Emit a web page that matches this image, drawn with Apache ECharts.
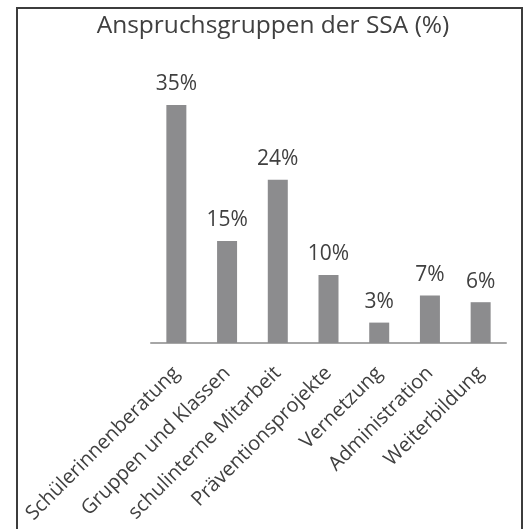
<!DOCTYPE html>
<html>
<head>
<meta charset="utf-8">
<script src="https://cdn.jsdelivr.net/npm/echarts@6/dist/echarts.min.js"></script>
<style>
html,body{margin:0;padding:0;background:#fff;}
#c{width:527px;height:529px;}
</style>
</head>
<body>
<div id="c"></div>
<script>
const titleText = 'Anspruchsgruppen der SSA (%)';
const categories = ['Schülerinnenberatung','Gruppen und Klassen','schulinterne Mitarbeit','Präventionsprojekte','Vernetzung','Administration','Weiterbildung'];
const values = [35, 15, 24, 10, 3, 7, 6];

const FONT = 'Open Sans';
const chart = echarts.init(document.getElementById('c'), null, {renderer:'canvas'});
chart.setOption({
  animation:false,
  backgroundColor:'#fff',
  graphic:[{
    type:'rect',
    shape:{x:17,y:8,width:505,height:525},
    style:{fill:'none',stroke:'#3c3c3c',lineWidth:2}
  }],
  title:{
    text:titleText,
    left:268, top:9, textAlign:'center',
    textStyle:{fontFamily:FONT,fontSize:24.5,fontWeight:'normal',color:'#404040'}
  },
  grid:{left:151,right:21,top:105,bottom:186,containLabel:false},
  xAxis:{
    type:'category',
    data:categories,
    axisLine:{lineStyle:{color:'#a6a6a6',width:2}},
    axisTick:{show:false},
    axisLabel:{rotate:45,margin:27,interval:0,fontFamily:FONT,fontSize:20,color:'#404040'}
  },
  yAxis:{type:'value',min:0,max:35,show:false,splitLine:{show:false}},
  series:[{
    type:'bar',
    data:values,
    barWidth:20,
    itemStyle:{color:'#8c8c8e'},
    label:{show:true,position:'top',distance:10,formatter:'{c}%',fontFamily:FONT,fontSize:21,color:'#404040'}
  }]
});
</script>
</body>
</html>
